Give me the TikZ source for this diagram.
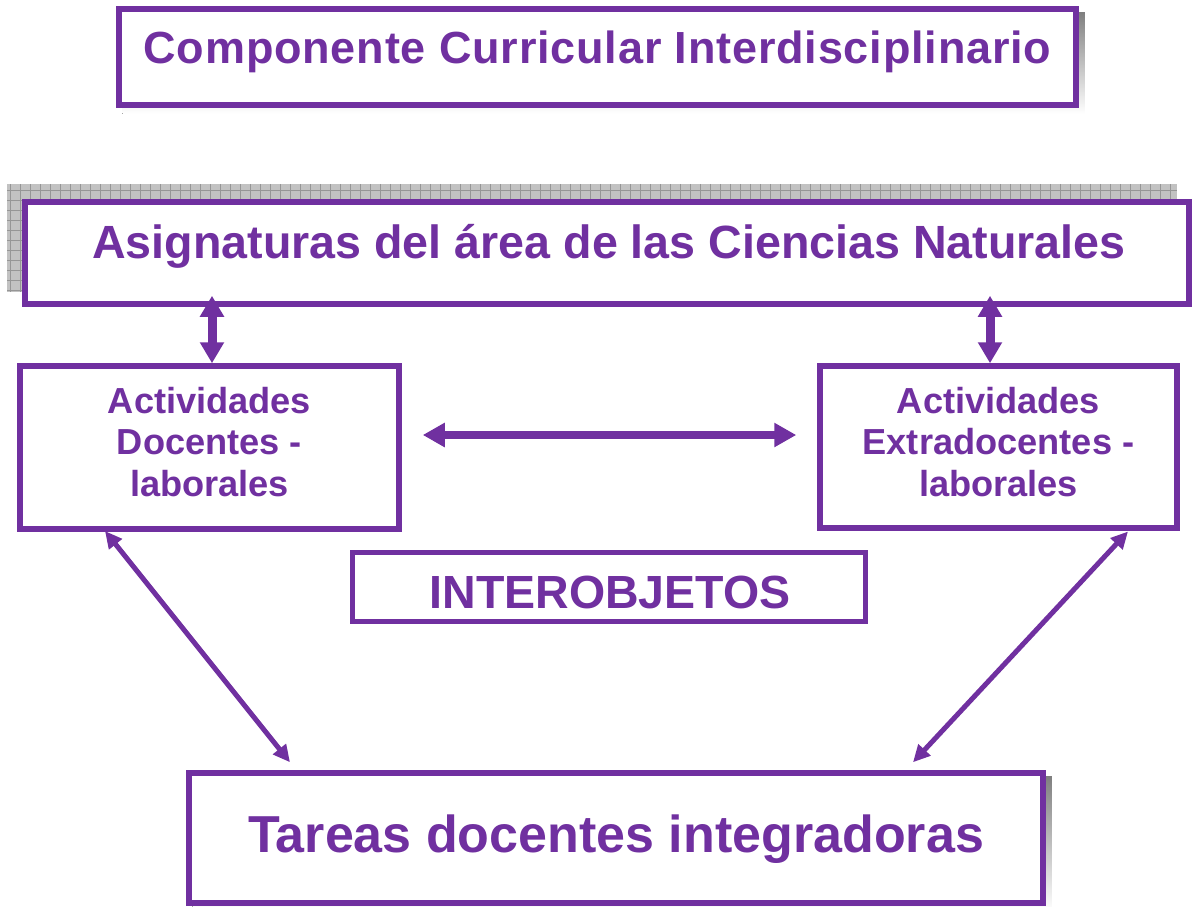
\documentclass[tikz,border=0pt]{standalone}
\usepackage{fontspec}
\setmainfont{Liberation Sans}
\usetikzlibrary{arrows.meta,calc,backgrounds}
\definecolor{purp}{HTML}{7030A0}
\definecolor{shade}{HTML}{808080}
\definecolor{patfill}{HTML}{C2C2C2}
\definecolor{patline}{HTML}{969696}
\begin{document}
\begin{tikzpicture}[x=1pt,y=-1pt,
  box/.style={draw=purp,line width=5.5pt,fill=white,inner sep=0pt},
  ptxt/.style={text=purp,inner sep=0pt,anchor=base},
  varrow/.style={draw=purp,fill=purp,line width=9pt,arrows={Triangle[width=23pt,length=21pt]-Triangle[width=23pt,length=21pt]}},
  harrow/.style={draw=purp,fill=purp,line width=8pt,arrows={Triangle[width=23pt,length=22pt]-Triangle[width=23pt,length=22pt]}},
  darrow/.style={draw=purp,fill=purp,line width=5pt,arrows={Triangle[width=16pt,length=17pt]-Triangle[width=16pt,length=17pt]}}]
\useasboundingbox (0,0) rectangle (1192,906);

% boxes
\node[box,minimum width=957pt,minimum height=96pt] (comp) at (597.5,57) {};
\node[box,minimum width=1164pt,minimum height=102pt] (asig) at (607,253) {};
\node[box,minimum width=379pt,minimum height=163pt] (adl) at (209.5,447.5) {};
\node[box,minimum width=357pt,minimum height=162pt] (adr) at (998.5,447) {};
\node[box,minimum width=513pt,minimum height=69pt] (inter) at (609,587) {};
\node[box,minimum width=854pt,minimum height=130pt] (tareas) at (616,838) {};

% shadows
\begin{scope}[on background layer]
\fill[shade] ($(comp.north west)+(6,6)$) rectangle ($(comp.south east)+(6,6)$);
\fill[shade] ($(tareas.north west)+(6,6)$) rectangle ($(tareas.south east)+(6,6)$);
\fill[patfill] ($(asig.north west)+(-15,-15)$) rectangle ($(asig.south east)+(-15,-15)$);
\draw[patline,line width=0.8pt,step=10pt] ($(asig.north west)+(-15,-15)$) grid ($(asig.south east)+(-15,-15)$);
\end{scope}

% texts
\node[ptxt,font=\bfseries\fontsize{45}{54}\selectfont\addfontfeature{LetterSpace=1.8}] (compt) at ($(comp.center)+(0,6)$) {Componente Curricular Interdisciplinario};
\node[ptxt,font=\bfseries\fontsize{46.6}{56}\selectfont] (asigt) at ($(asig.center)+(2,5)$) {Asignaturas del área de las Ciencias Naturales};
\node[ptxt,font=\bfseries\fontsize{46.5}{56}\selectfont] (intert) at ($(inter.center)+(1,21.5)$) {INTEROBJETOS};
\node[ptxt,font=\bfseries\fontsize{52}{62}\selectfont] (tareast) at ($(tareas.center)+(0,14)$) {Tareas docentes integradoras};
\node[ptxt,anchor=north,align=center,font=\bfseries\fontsize{36.2}{41.5}\selectfont] (adlt) at ($(adl.center)+(0,-60.5)$) {Actividades\\Docentes -\\laborales};
\node[ptxt,anchor=north,align=center,font=\bfseries\fontsize{36.2}{41.5}\selectfont] (adrt) at ($(adr.center)+(0,-60)$) {Actividades\\Extradocentes -\\laborales};

% connectors
\draw[varrow] ($(adl.north |- asig.south)+(2.5,-11)$) -- ($(adl.north)+(2.5,0)$);
\draw[varrow] ($(adr.north |- asig.south)+(-8.5,-11)$) -- ($(adr.north)+(-8.5,0)$);
\draw[harrow] ($(adl.east)+(21,-12.5)$) -- ($(adr.west)+(-21,-12)$);
\draw[darrow] ($(adl.south)+(-104.5,-0.75)$) -- ($(tareas.north)+(-326,-8)$);
\draw[darrow] ($(adr.south)+(129.5,0.75)$) -- ($(tareas.north)+(297,-8)$);
\end{tikzpicture}
\end{document}
